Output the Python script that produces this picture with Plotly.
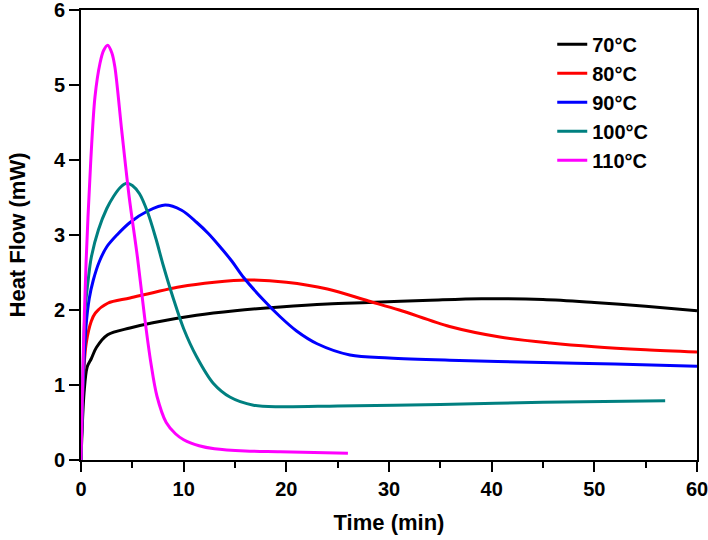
import plotly.graph_objects as go

labels = ["70°C", "80°C", "90°C", "100°C", "110°C"]
colors = ["#000000", "#ff0000", "#0000ff", "#008080", "#ff00ff"]

x70 = [0, 0.3, 0.6, 1.0, 1.5, 2.6, 4.77, 7, 11.25, 15, 19.4, 24, 28, 34, 39, 45, 50, 55, 60]
y70 = [0, 0.9, 1.24, 1.35, 1.5, 1.67, 1.76, 1.83, 1.93, 1.99, 2.04, 2.08, 2.1, 2.13, 2.15, 2.14, 2.1, 2.05, 1.99]

x80 = [0, 0.2, 0.5, 1.0, 1.4, 2.6, 4.77, 9.67, 13, 16.2, 20, 24, 28, 31, 35.9, 40.8, 45.7, 50, 55, 60]
y80 = [0, 1.0, 1.55, 1.85, 1.96, 2.09, 2.16, 2.31, 2.37, 2.4, 2.37, 2.28, 2.12, 2.0, 1.78, 1.64, 1.56, 1.51, 1.47, 1.44]

x90 = [0, 0.2, 0.5, 0.8, 1.2, 1.8, 2.5, 3.5, 4.8, 6.5, 8.2, 9.8, 11.25, 12.4, 13.5, 14.7, 15.8, 17.8, 19.4, 21, 23, 26.2, 30, 35.9, 45, 52, 60]
y90 = [0, 1.0, 1.8, 2.15, 2.4, 2.65, 2.84, 3.0, 3.17, 3.32, 3.4, 3.33, 3.17, 3.02, 2.85, 2.65, 2.44, 2.13, 1.91, 1.72, 1.55, 1.4, 1.36, 1.33, 1.3, 1.28, 1.25]

x100 = [0, 0.2, 0.4, 0.7, 1.0, 1.7, 2.5, 3.15, 3.8, 4.45, 5.0, 5.7, 6.5, 7.3, 8.0, 9.0, 10.0, 11.25, 12.9, 14.5, 16.8, 19.5, 25, 35, 45, 56.9]
y100 = [0, 1.2, 2.0, 2.4, 2.7, 3.07, 3.35, 3.51, 3.63, 3.69, 3.66, 3.55, 3.3, 2.95, 2.6, 2.15, 1.75, 1.38, 1.02, 0.84, 0.73, 0.71, 0.72, 0.74, 0.77, 0.79]

x110 = [0, 0.2, 0.49, 0.94, 1.36, 1.85, 2.2, 2.6, 3.0, 3.3, 3.96, 4.7, 5.5, 6.2, 6.8, 7.4, 8.3, 9.2, 10, 11.5, 13, 16, 19.4, 26]
y110 = [0, 1.3, 2.62, 3.96, 4.84, 5.29, 5.46, 5.53, 5.43, 5.24, 4.4, 3.5, 2.7, 1.9, 1.3, 0.85, 0.5, 0.35, 0.27, 0.19, 0.15, 0.12, 0.11, 0.09]

xs = [x70, x80, x90, x100, x110]
ys = [y70, y80, y90, y100, y110]

FAM = "Liberation Sans, Arial, sans-serif"

fig = go.Figure()
for lab, col, x, y in zip(labels, colors, xs, ys):
    fig.add_trace(go.Scatter(x=x, y=y, mode="lines", name=lab,
                             line=dict(color=col, width=3, shape="spline", smoothing=0.9)))

axis_common = dict(showline=True, linecolor="black", linewidth=2, mirror=True,
                   ticks="outside", ticklen=10, tickwidth=2, tickcolor="black",
                   showgrid=False, zeroline=False, automargin=False,
                   ticklabeloverflow="allow",
                   tickfont=dict(family=FAM, size=20, color="black", weight="bold"))

fig.update_layout(
    width=708, height=540,
    margin=dict(l=81, r=11, t=10, b=80),
    plot_bgcolor="white", paper_bgcolor="white",
    font=dict(family=FAM, size=20, color="black"),
    xaxis=dict(range=[0, 60], dtick=10, tick0=0,
               minor=dict(dtick=5, ticks="outside", ticklen=6, tickwidth=2, tickcolor="black"),
               title=dict(text="<b>Time (min)</b>", font=dict(family=FAM, size=22), standoff=16),
               **axis_common),
    yaxis=dict(range=[0, 6], dtick=1, tick0=0,
               title=dict(text="<b>Heat Flow (mW)</b>", font=dict(family=FAM, size=22), standoff=22),
               **axis_common),
    legend=dict(x=0.765, y=0.967, xanchor="left", yanchor="top",
                bgcolor="rgba(0,0,0,0)", borderwidth=0,
                font=dict(family=FAM, size=20, color="black", weight="bold"),
                tracegroupgap=0),
    showlegend=True,
)

fig.write_html("out.html", config={"displayModeBar": False},
               post_script="document.body.style.margin='0';document.body.style.overflow='hidden';")
